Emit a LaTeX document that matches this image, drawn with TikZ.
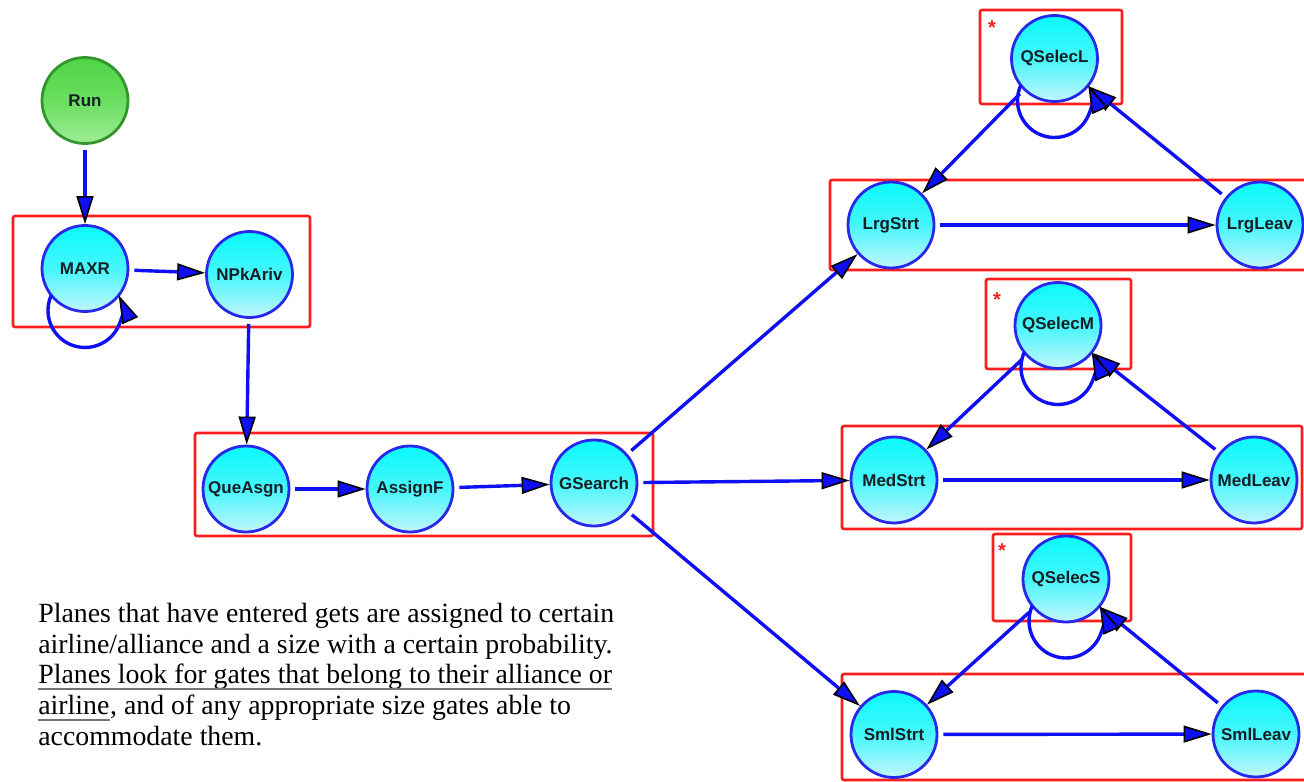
\documentclass[tikz,border=0pt]{standalone}
\usepackage{fontspec}
\setmainfont{Liberation Serif}
\setsansfont{Liberation Sans}
\usetikzlibrary{arrows.meta}

\definecolor{ringblue}{RGB}{40,40,235}
\definecolor{flowblue}{RGB}{15,15,245}
\definecolor{grpred}{RGB}{250,30,30}
\definecolor{cyantop}{RGB}{10,250,252}
\definecolor{cyanmid}{RGB}{70,246,252}
\definecolor{cyanlow}{RGB}{195,246,252}
\definecolor{greentop}{RGB}{80,212,70}
\definecolor{greenmid}{RGB}{105,222,95}
\definecolor{greenlow}{RGB}{160,236,150}
\definecolor{greenring}{RGB}{50,150,45}
\definecolor{labelink}{RGB}{20,32,36}
\definecolor{ulgray}{RGB}{115,115,115}

\begin{document}
\begin{tikzpicture}[x=0.5pt,y=0.5pt,
  proc/.style={circle, minimum size=43pt, inner sep=0pt, draw=ringblue, line width=1.4pt,
    top color=cyantop, bottom color=cyanlow, middle color=cyanmid,
    font=\sffamily\bfseries\fontsize{8.5}{10}\selectfont, text=labelink},
  startproc/.style={proc, draw=greenring,
    top color=greentop, bottom color=greenlow, middle color=greenmid},
  flowarrow/.style={draw=flowblue, line width=1.7pt, shorten <=2.5pt,
    -{Triangle[length=14pt,width=8.5pt,color=black,fill=flowblue,line width=0.8pt]}},
  selfloop/.style={flowarrow, shorten <=0pt},
  grouprect/.style={draw=grpred, line width=1.3pt, rounded corners=1pt},
  starmark/.style={anchor=base, inner sep=0pt, text=grpred,
    font=\sffamily\bfseries\fontsize{10}{11}\selectfont},
  paraline/.style={anchor=base west, inner sep=0pt,
    font=\fontsize{13.9}{15.4}\selectfont},
  underl/.style={draw=ulgray, line width=1pt}
]
\useasboundingbox (0,0) rectangle (1304,-781);
\clip (0,0) rectangle (1304,-781);

% grouping frames
\draw[grouprect] (13,-216) rectangle (310,-327);
\draw[grouprect] (195,-433) rectangle (653,-536);
\draw[grouprect] (980,-10) rectangle (1122,-104);
\draw[grouprect] (830,-180) rectangle (1312,-270);
\draw[grouprect] (986,-279) rectangle (1131,-369);
\draw[grouprect] (842,-426) rectangle (1302,-529);
\draw[grouprect] (993,-534) rectangle (1131,-621);
\draw[grouprect] (842,-674) rectangle (1312,-780);

% markers on the queue-selection frames
\node[starmark] (starL) at (992,-35) {*};
\node[starmark] (starM) at (997,-306) {*};
\node[starmark] (starS) at (1002,-557) {*};

% states
\node[startproc] (run) at (85,-100.5) {Run};
\node[proc] (maxr) at (85,-268.5) {MAXR};
\node[proc] (npk) at (249.5,-274.5) {NPkAriv};
\node[proc] (que) at (246,-489) {QueAsgn};
\node[proc] (asg) at (410,-489) {AssignF};
\node[proc] (gs) at (594,-483) {GSearch};
\node[proc] (qL) at (1054.5,-58.5) {QSelecL};
\node[proc] (lrgS) at (891,-225) {LrgStrt};
\node[proc] (lrgL) at (1260,-225) {LrgLeav};
\node[proc] (qM) at (1058,-325.5) {QSelecM};
\node[proc] (medS) at (894,-480) {MedStrt};
\node[proc] (medL) at (1254,-480) {MedLeav};
\node[proc] (qS) at (1066,-579) {QSelecS};
\node[proc] (smlS) at (894,-734.5) {SmlStrt};
\node[proc] (smlL) at (1256,-734) {SmlLeav};

% transitions
\draw[flowarrow] (run) -- (maxr);
\draw[flowarrow] (maxr) -- (npk);
\draw[flowarrow] (npk) -- (que);
\draw[flowarrow] (que) -- (asg);
\draw[flowarrow] (asg) -- (gs);
\draw[flowarrow] (gs) -- (lrgS);
\draw[flowarrow] (gs) -- (medS);
\draw[flowarrow] (gs) -- (smlS);
\draw[flowarrow] (qL) -- (lrgS);
\draw[flowarrow] (lrgS) -- (lrgL);
\draw[flowarrow] (lrgL) -- (qL);
\draw[flowarrow] (qM) -- (medS);
\draw[flowarrow] (medS) -- (medL);
\draw[flowarrow] (medL) -- (qM);
\draw[flowarrow] (qS) -- (smlS);
\draw[flowarrow] (smlS) -- (smlL);
\draw[flowarrow] (smlL) -- (qS);

% self loops hanging below a state
\foreach \s in {maxr,qL,qM,qS}
  \draw[selfloop] ([shift={(-16.85pt,-13.35pt)}]\s.center)
    arc[start angle=155.6, end angle=384.4, radius=18.5pt];

% explanatory paragraph
\node[paraline] (p1) at (38,-622) {Planes that have entered gets are assigned to certain};
\node[paraline] (p2) at (38,-653) {airline/alliance and a size with a certain probability.};
\node[paraline] (p3) at (38,-683) {Planes look for gates that belong to their alliance or};
\node[paraline] (p4a) at (38,-714) {airline};
\node[paraline] (p4b) at (p4a.base east) {, and of any appropriate size gates able to};
\node[paraline] (p5) at (38,-745) {accommodate them.};
\draw[underl] ([yshift=-3pt]p3.base west) -- ([yshift=-3pt]p3.base east);
\draw[underl] ([yshift=-3pt]p4a.base west) -- ([yshift=-3pt]p4a.base east);
\end{tikzpicture}
\end{document}
